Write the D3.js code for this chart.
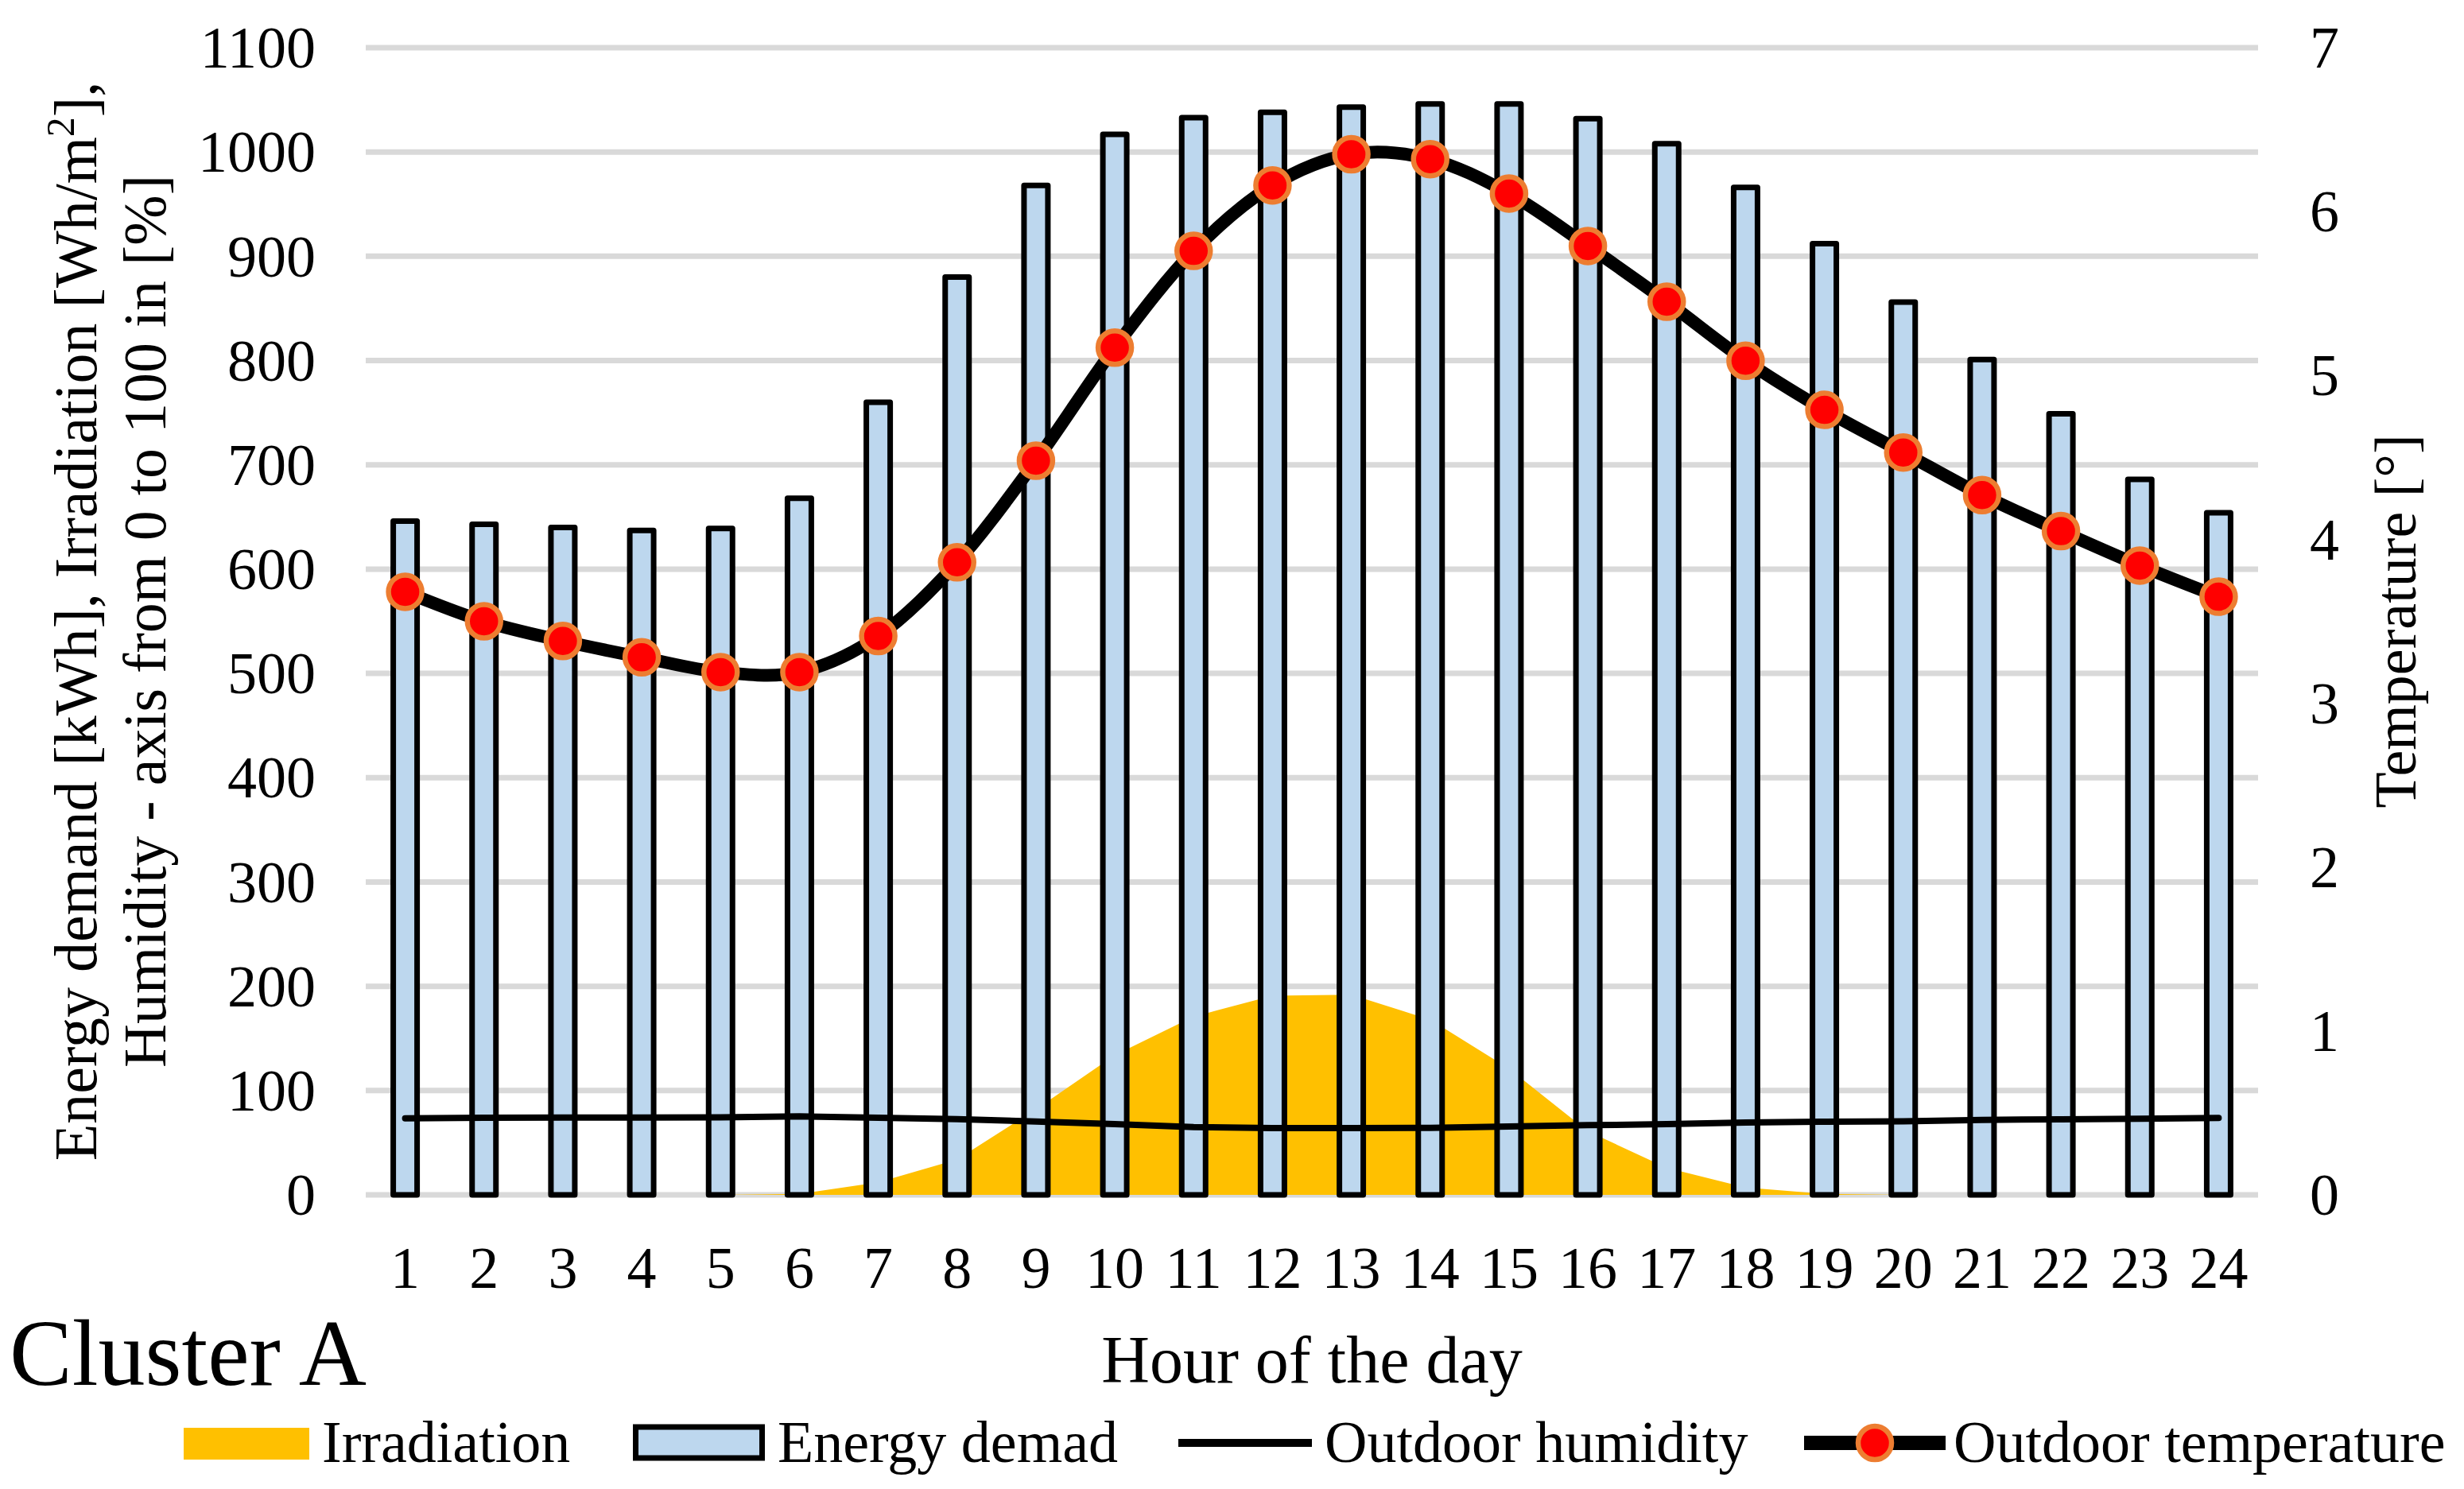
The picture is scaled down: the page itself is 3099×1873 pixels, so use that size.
<!DOCTYPE html>
<html>
<head>
<meta charset="utf-8">
<style>
  body { margin: 0; background: #fff; }
  text { font-family: "Liberation Serif", "Times New Roman", serif; fill: #000; }
</style>
</head>
<body>
<div id="container"></div>
<script src="https://cdn.jsdelivr.net/npm/d3@7"></script>
<script>

// Data
const hours = [1, 2, 3, 4, 5, 6, 7, 8, 9, 10, 11, 12, 13, 14, 15, 16, 17, 18, 19, 20, 21, 22, 23, 24];
const energyDemand = [646, 643, 640, 637, 639, 668, 760, 880, 968, 1017, 1033, 1038, 1043, 1046, 1046, 1032, 1008, 966, 912, 856, 801, 749, 686, 654];
const irradiation = [0, 0, 0, 0, 0, 1, 12, 34, 82, 134, 171, 191, 192, 168, 121, 61, 26, 7, 1, 0, 0, 0, 0, 0];
const humidity = [73.4, 73.9, 74.2, 74.2, 74.4, 75.2, 73.9, 72.7, 70.4, 67.8, 65.0, 64.0, 64.0, 64.3, 65.5, 66.8, 67.8, 69.4, 70.1, 70.6, 71.9, 72.4, 72.9, 73.7];
const temperature = [3.68, 3.50, 3.38, 3.28, 3.19, 3.19, 3.41, 3.86, 4.48, 5.17, 5.76, 6.16, 6.35, 6.32, 6.11, 5.79, 5.45, 5.09, 4.79, 4.53, 4.27, 4.05, 3.84, 3.65];
const leftTicks = [0, 100, 200, 300, 400, 500, 600, 700, 800, 900, 1000, 1100];
const rightTicks = [0, 1, 2, 3, 4, 5, 6, 7];

const W = 3099, H = 1873;
const plot = { left: 460, right: 2840, top: 60, bottom: 1503 };

const svg = d3.select("#container")
  .append("svg")
  .attr("width", W)
  .attr("height", H);

const x = d3.scaleBand().domain(hours).range([plot.left, plot.right]);
const cx = h => x(h) + x.bandwidth() / 2;
const yL = d3.scaleLinear().domain([0, 1100]).range([plot.bottom, plot.top]);
const yR = d3.scaleLinear().domain([0, 7]).range([plot.bottom, plot.top]);

// gridlines
svg.append("g")
  .selectAll("line")
  .data(leftTicks)
  .join("line")
  .attr("x1", plot.left)
  .attr("x2", plot.right)
  .attr("y1", d => yL(d))
  .attr("y2", d => yL(d))
  .attr("stroke", "#D9D9D9")
  .attr("stroke-width", 7);

// irradiation area
const area = d3.area()
  .x((d, i) => cx(hours[i]))
  .y0(yL(0))
  .y1(d => yL(d));
svg.append("path")
  .datum(irradiation)
  .attr("d", area)
  .attr("fill", "#FFC000");

// energy demand bars
const barW = 30;
svg.append("g")
  .selectAll("rect")
  .data(energyDemand)
  .join("rect")
  .attr("x", (d, i) => cx(hours[i]) - barW / 2)
  .attr("y", d => yL(d))
  .attr("width", barW)
  .attr("height", d => yL(0) - yL(d))
  .attr("fill", "#BDD7EE")
  .attr("stroke", "#000")
  .attr("stroke-width", 7)
  .attr("stroke-linejoin", "round");

// humidity line
const humLine = d3.line()
  .x((d, i) => cx(hours[i]))
  .y(d => yL(d));
svg.append("path")
  .datum(humidity)
  .attr("d", humLine)
  .attr("fill", "none")
  .attr("stroke", "#000")
  .attr("stroke-width", 8)
  .attr("stroke-linecap", "round");

// temperature line + markers
const tempLine = d3.line()
  .x((d, i) => cx(hours[i]))
  .y(d => yR(d))
  .curve(d3.curveCardinal.tension(0));
svg.append("path")
  .datum(temperature)
  .attr("d", tempLine)
  .attr("fill", "none")
  .attr("stroke", "#000")
  .attr("stroke-width", 16)
  .attr("stroke-linejoin", "round");

svg.append("g")
  .selectAll("circle")
  .data(temperature)
  .join("circle")
  .attr("cx", (d, i) => cx(hours[i]))
  .attr("cy", d => yR(d))
  .attr("r", 21)
  .attr("fill", "#FF0000")
  .attr("stroke", "#ED7D31")
  .attr("stroke-width", 6.5);

// axes labels
const tickSize = 74;
svg.append("g")
  .selectAll("text")
  .data(leftTicks)
  .join("text")
  .attr("x", 397)
  .attr("y", d => yL(d) + tickSize * 0.34)
  .attr("text-anchor", "end")
  .attr("font-size", tickSize)
  .text(d => d);

svg.append("g")
  .selectAll("text")
  .data(rightTicks)
  .join("text")
  .attr("x", 2905)
  .attr("y", d => yR(d) + tickSize * 0.34)
  .attr("font-size", tickSize)
  .text(d => d);

svg.append("g")
  .selectAll("text")
  .data(hours)
  .join("text")
  .attr("x", d => cx(d))
  .attr("y", 1620)
  .attr("text-anchor", "middle")
  .attr("font-size", tickSize)
  .text(d => d);

// axis titles
const midY = (plot.top + plot.bottom) / 2;
const t1 = svg.append("text")
  .attr("transform", `translate(121,${midY}) rotate(-90)`)
  .attr("text-anchor", "middle")
  .attr("font-size", 76);
t1.append("tspan").text("Energy demand [kWh], Irradiation [Wh/m");
t1.append("tspan").attr("font-size", 50).attr("dy", -28).text("2");
t1.append("tspan").attr("dy", 28).text("],");

svg.append("text")
  .attr("transform", `translate(208,${midY}) rotate(-90)`)
  .attr("text-anchor", "middle")
  .attr("font-size", 76)
  .text("Humidity - axis from 0 to 100 in [%]");

svg.append("text")
  .attr("transform", `translate(3038,${midY}) rotate(-90)`)
  .attr("text-anchor", "middle")
  .attr("font-size", 74)
  .text("Temperature [°]");

svg.append("text")
  .attr("x", (plot.left + plot.right) / 2)
  .attr("y", 1739)
  .attr("text-anchor", "middle")
  .attr("font-size", 84)
  .text("Hour of the day");

svg.append("text")
  .attr("x", 12)
  .attr("y", 1742)
  .attr("font-size", 118)
  .text("Cluster A");

// legend
const lg = svg.append("g");
const lgY = 1815, lgBase = 1839, lgSize = 74;

lg.append("rect").attr("x", 231).attr("y", 1796).attr("width", 158).attr("height", 40).attr("fill", "#FFC000");
lg.append("text").attr("x", 405).attr("y", lgBase).attr("font-size", lgSize).text("Irradiation");

lg.append("rect").attr("x", 799.5).attr("y", 1795).attr("width", 159).attr("height", 39)
  .attr("fill", "#BDD7EE").attr("stroke", "#000").attr("stroke-width", 7);
lg.append("text").attr("x", 978).attr("y", lgBase).attr("font-size", lgSize).text("Energy demad");

lg.append("line").attr("x1", 1482).attr("x2", 1650).attr("y1", lgY).attr("y2", lgY)
  .attr("stroke", "#000").attr("stroke-width", 10);
lg.append("text").attr("x", 1666).attr("y", lgBase).attr("font-size", lgSize).text("Outdoor humidity");

lg.append("line").attr("x1", 2269).attr("x2", 2447).attr("y1", lgY).attr("y2", lgY)
  .attr("stroke", "#000").attr("stroke-width", 18);
lg.append("circle").attr("cx", 2358).attr("cy", lgY).attr("r", 21)
  .attr("fill", "#FF0000").attr("stroke", "#ED7D31").attr("stroke-width", 6.5);
lg.append("text").attr("x", 2457).attr("y", lgBase).attr("font-size", lgSize).text("Outdoor temperature");

</script>
</body>
</html>
